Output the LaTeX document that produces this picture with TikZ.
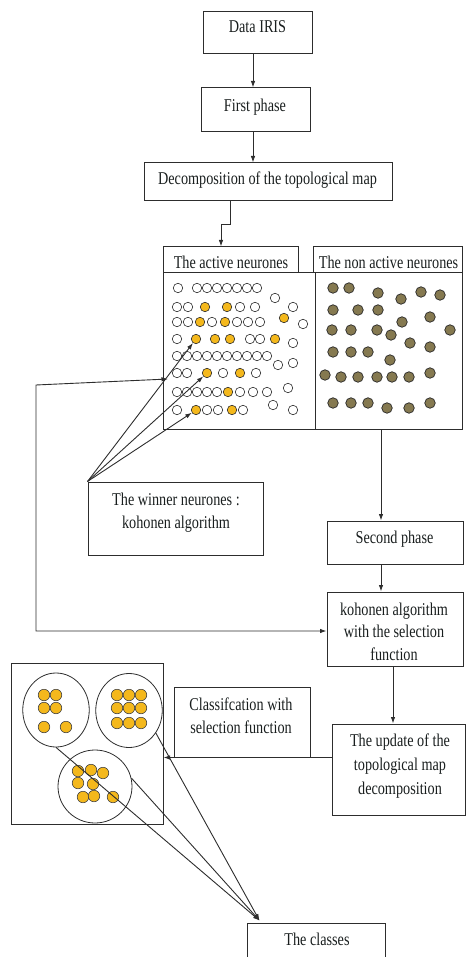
\documentclass[tikz,border=0pt]{standalone}
\usepackage{fontspec}
\setmainfont{Liberation Serif}[FakeStretch=0.79]
\usetikzlibrary{arrows.meta,shapes.geometric,fit}
\definecolor{gold}{RGB}{244,184,28}
\definecolor{olivebr}{RGB}{133,121,80}
\definecolor{linec}{RGB}{45,45,45}
\definecolor{txtc}{RGB}{25,30,30}
\begin{document}
\begin{tikzpicture}[x=1pt,y=-1pt,
  box/.style={draw=linec, line width=1pt, rectangle, inner sep=0pt},
  txt/.style={anchor=base, inner sep=0pt, text=txtc, font=\fontsize{18}{22.5}\selectfont},
  arr/.style={-{Latex[length=6.5pt,width=4.5pt]}, draw=linec, line width=0.9pt},
  biarr/.style={{Latex[length=6.5pt,width=4.5pt]}-{Latex[length=6.5pt,width=4.5pt]}, draw=linec, line width=0.9pt},
  opn/.style={circle, draw=linec, line width=0.6pt, fill=white, minimum size=9.5pt, inner sep=0pt},
  act/.style={opn, fill=gold},
  non/.style={circle, draw=black!85, line width=0.7pt, fill=olivebr, minimum size=10.5pt, inner sep=0pt},
  cls/.style={circle, draw=black!75, line width=0.6pt, fill=gold, minimum size=11.5pt, inner sep=0pt},
  group/.style={ellipse, draw=linec, line width=0.8pt, inner sep=0pt}
]
\useasboundingbox (0,0) rectangle (467,957);
\clip (0,0) rectangle (467,957);

% ---------- boxes ----------
\node[box, fit={(203,12) (312,54)}] (data) {};
\node[box, fit={(201,88) (310,132)}] (first) {};
\node[box, fit={(144,163) (392,201)}] (decomp) {};
\node[box, fit={(163,247) (298,273)}] (activehead) {};
\node[box, fit={(313,247) (462,273)}] (nonhead) {};
\node[box, fit={(163,273) (315,429)}] (activebox) {};
\node[box, fit={(315,273) (462,429)}] (nonbox) {};
\node[box, fit={(88,482) (263,555)}] (winner) {};
\node[box, fit={(327,521) (463,564)}] (second) {};
\node[box, fit={(327,592) (463,666)}] (kohonen) {};
\node[box, fit={(174,687) (310,757)}] (classif) {};
\node[box, fit={(332,724) (465.5,815)}] (update) {};
\node[box, fit={(11,663) (163,824)}] (clbox) {};
\node[box, fit={(247,923) (385,980)}] (classes) {};

% ---------- texts ----------
\node[txt] (t1) at (257.5,33) {Data IRIS};
\node[txt] (t2) at (255,112) {First phase};
\node[txt] (t3) at (267.5,185) {Decomposition of the topological map};
\node[txt] (t4) at (231,269) {The active neurones};
\node[txt] (t5) at (388.5,269) {The non active neurones};
\node[txt] (t6) at (176,505.5) {The winner neurones :};
\node[txt] (t7) at (176,528) {kohonen algorithm};
\node[txt] (t8) at (394.5,543) {Second phase};
\node[txt] (t9) at (394,615) {kohonen algorithm};
\node[txt] (t10) at (394,637.5) {with the selection};
\node[txt] (t11) at (394,660) {function};
\node[txt] (t12) at (241,710) {Classifcation with};
\node[txt] (t13) at (241,733) {selection function};
\node[txt] (t14) at (400,746.5) {The update of the};
\node[txt] (t15) at (400,770) {topological map};
\node[txt] (t16) at (400,794) {decomposition};
\node[txt] (t17) at (317,945) {The classes};

% ---------- active neurones ----------
\foreach[count=\i] \x/\y in {
  178/288,197/288,207/288,217/288,227/288,237/288,247/288,257/288,275/298,293/307,
  177/307,188/307,240/307,255/307,
  177/322,188/322,212/322,237/322,248/322,260/322,303/324,
  177/339,250/339,260/339,293/343,
  177/356,187/356,197/356,207/356,217/356,227/356,237/356,247/356,257/356,267/356,278/365,293/363,
  177/373,187/373,223/373,256/373,
  177/392,187/392,197/392,207/392,217/392,240/392,253/392,267/392,288/388,
  177/410,207/410,218/410,243/410,273/405,293/410}
  \node[opn] (o\i) at (\x,\y) {};
\foreach[count=\i] \x/\y in {
  205/307,227/307,200/322,225/322,284/318,
  215/339,230/339,275/339,
  240/373,228/392,232/410}
  \node[act] (f\i) at (\x,\y) {};
\node[act] (w1) at (196,339) {};
\node[act] (w2) at (207,373) {};
\node[act] (w3) at (196,410) {};

% ---------- non active neurones ----------
\foreach[count=\i] \x/\y in {
  333/288,349/288,378/293,401/299,421/292,440/295,
  333/310,358/310,378/310,430/317,402/322,
  332/330,351/330,377/330,391/335,450/330,410/343,430/347,
  333/352,351/352,368/352,390/360,
  325/375,341/377,358/377,377/377,392/377,409/377,430/373,
  333/403,351/403,368/403,387/408,409/408,430/403}
  \node[non] (n\i) at (\x,\y) {};

% ---------- classes ----------
\node[group, minimum width=66.5pt, minimum height=74pt] (c1) at (56,710) {};
\node[group, minimum width=66.5pt, minimum height=74pt] (c2) at (129,710.5) {};
\node[group, minimum width=74pt, minimum height=73pt] (c3) at (95,786.5) {};
\foreach[count=\i] \x/\y in {44/695,56/695,44/708,56/708,44/727,66/727,
  117/695,129/695,141/695,117/708,129/708,141/708,117/723,129/723,141/723,
  78/771,91/770,103/773,78/783,93/784,83/797,94/796,113/797}
  \node[cls] (d\i) at (\x,\y) {};

% ---------- connectors ----------
\draw[arr] ([xshift=-4.5pt]data.south) coordinate (s1) -- (s1 |- first.north);
\draw[arr] ([xshift=-2.5pt]first.south) coordinate (s2) -- (s2 |- decomp.north);
\draw[arr] ([xshift=-38pt]decomp.south) -- ++(0,23) -| ([xshift=-9.5pt]activehead.north);
\draw[arr] ([xshift=-7.5pt]nonbox.south) coordinate (s3) -- (s3 |- second.north);
\draw[arr] (s3 |- second.south) -- (s3 |- kohonen.north);
\draw[arr] ([xshift=-2pt]kohonen.south) coordinate (s4) -- (s4 |- update.north);
\draw[arr] (update.west |- classif.south) -- (clbox.east |- classif.south);

\draw[arr] (winner.north west) -- (w1);
\draw[arr] (winner.north west) -- (w2);
\draw[arr] (winner.north west) -- (w3);

\coordinate (fbtip) at (168,379);
\coordinate (fbA) at (36,385);
\coordinate (fbB) at (36,631);
\draw[biarr] (fbtip) -- (fbA) -- (fbB) -- (fbB -| kohonen.west);

\coordinate (cp) at ([xshift=13pt,yshift=2pt]classes.north west);
\draw[arr] (c1.south) -- (cp);
\draw[arr] (c3.13) -- (cp);
\draw[arr] (c2.-40) -- (cp);
\end{tikzpicture}
\end{document}
